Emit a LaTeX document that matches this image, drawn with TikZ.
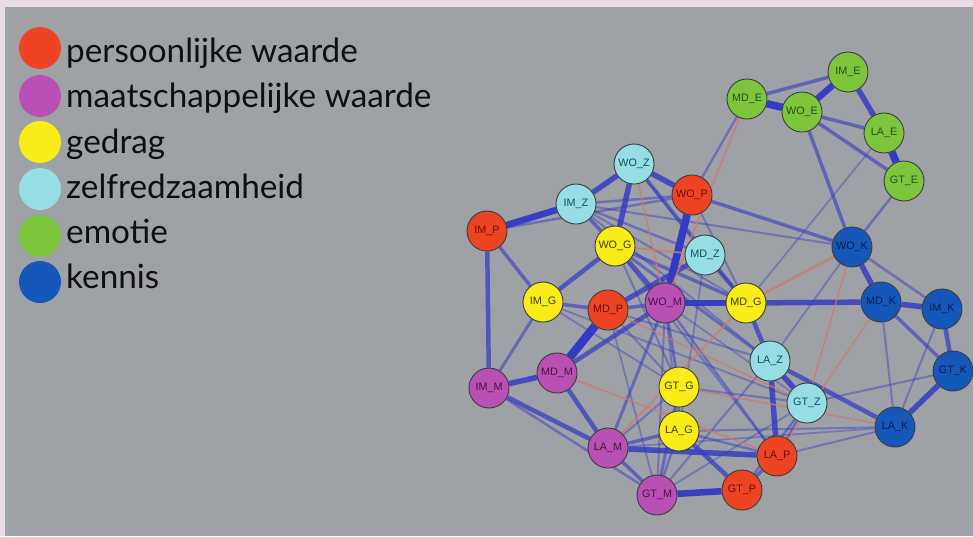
\documentclass[tikz,border=0pt]{standalone}
\usepackage{fontspec}
\setmainfont{Lato}
\newfontfamily\nodefont{Liberation Sans}
\pgfdeclarelayer{bg}
\pgfdeclarelayer{edges}
\pgfsetlayers{bg,edges,main}
\definecolor{pinkbg}{RGB}{233,220,228}
\definecolor{graybg}{RGB}{158,161,165}
\definecolor{cPers}{RGB}{238,68,36}
\definecolor{cMaat}{RGB}{185,80,180}
\definecolor{cGedr}{RGB}{250,236,25}
\definecolor{cZelf}{RGB}{150,222,228}
\definecolor{cEmot}{RGB}{125,198,60}
\definecolor{cKenn}{RGB}{22,88,185}
\definecolor{tPers}{RGB}{100,15,10}
\definecolor{tMaat}{RGB}{75,15,75}
\definecolor{tGedr}{RGB}{60,60,15}
\definecolor{tZelf}{RGB}{15,80,90}
\definecolor{tEmot}{RGB}{35,80,25}
\definecolor{tKenn}{RGB}{10,25,80}
\definecolor{edgeblue}{RGB}{52,58,195}
\definecolor{edgered}{RGB}{210,120,110}
\definecolor{ringgray}{RGB}{60,60,60}
\tikzset{
  vnode/.style={circle,draw=ringgray,line width=0.9pt,minimum size=40pt,inner sep=0pt,
    font=\nodefont\fontsize{10.8}{10.8}\selectfont},
  pn/.style={vnode,fill=cPers,text=tPers},
  mn/.style={vnode,fill=cMaat,text=tMaat},
  gn/.style={vnode,fill=cGedr,text=tGedr},
  zn/.style={vnode,fill=cZelf,text=tZelf},
  en/.style={vnode,fill=cEmot,text=tEmot},
  kn/.style={vnode,fill=cKenn,text=tKenn},
  legdot/.style={circle,minimum size=42pt,inner sep=0pt},
  legtxt/.style={anchor=base west,inner sep=0pt,font=\fontsize{33.3}{33.3}\selectfont,
    text={rgb,255:red,15;green,15;blue,15}},
  redge/.style={draw=edgered,draw opacity=0.8}
}
\begin{document}
\begin{tikzpicture}[x=1pt,y=-1pt]
\useasboundingbox (0,0) rectangle (973,536);
\begin{pgfonlayer}{bg}
  \fill[pinkbg] (0,0) rectangle (973,536);
  \fill[graybg] (5,7) rectangle (973,536);
\end{pgfonlayer}

% legend
\node[legdot,fill=cPers] (l1) at (40,48) {};
\node[legdot,fill=cMaat] (l2) at (40,96) {};
\node[legdot,fill=cGedr] (l3) at (40,142) {};
\node[legdot,fill=cZelf] (l4) at (40,189) {};
\node[legdot,fill=cEmot] (l5) at (40,236) {};
\node[legdot,fill=cKenn] (l6) at (40,282) {};
\node[legtxt] (t1) at (66,62) {persoonlijke waarde};
\node[legtxt] (t2) at (66,107.5) {maatschappelijke waarde};
\node[legtxt] (t3) at (66,153) {gedrag};
\node[legtxt] (t4) at (66,198) {zelfredzaamheid};
\node[legtxt] (t5) at (66,243) {emotie};
\node[legtxt] (t6) at (66,288.5) {kennis};

% nodes
\node[en] (IME) at (848,72) {IM\_E};
\node[en] (MDE) at (747,99) {MD\_E};
\node[en] (WOE) at (802,112) {WO\_E};
\node[en] (LAE) at (884,133) {LA\_E};
\node[en] (GTE) at (904,181) {GT\_E};
\node[zn] (WOZ) at (634,164) {WO\_Z};
\node[pn] (WOP) at (692,195) {WO\_P};
\node[zn] (IMZ) at (576,204) {IM\_Z};
\node[pn] (IMP) at (487,231) {IM\_P};
\node[gn] (WOG) at (615,246) {WO\_G};
\node[zn] (MDZ) at (705,255) {MD\_Z};
\node[kn] (WOK) at (852,247) {WO\_K};
\node[gn] (IMG) at (543,302) {IM\_G};
\node[pn] (MDP) at (608,310) {MD\_P};
\node[mn] (WOM) at (665,303) {WO\_M};
\node[gn] (MDG) at (746,303) {MD\_G};
\node[kn] (MDK) at (881,302) {MD\_K};
\node[kn] (IMK) at (942,309) {IM\_K};
\node[zn] (LAZ) at (770,361) {LA\_Z};
\node[mn] (IMM) at (489,388) {IM\_M};
\node[mn] (MDM) at (557,373) {MD\_M};
\node[gn] (GTG) at (679,387) {GT\_G};
\node[kn] (GTK) at (953,371) {GT\_K};
\node[zn] (GTZ) at (807,403) {GT\_Z};
\node[kn] (LAK) at (895,427) {LA\_K};
\node[gn] (LAG) at (679,431) {LA\_G};
\node[mn] (LAM) at (608,448) {LA\_M};
\node[pn] (LAP) at (777,456) {LA\_P};
\node[pn] (GTP) at (742,490) {GT\_P};
\node[mn] (GTM) at (657,495) {GT\_M};

\begin{pgfonlayer}{edges}
% blue (positive) connectors: from/to/width
\foreach \a/\b/\w in {
 WOE/MDE/7, WOE/IME/6, IME/LAE/5, LAE/GTE/7, MDE/IME/3, WOE/LAE/3, WOE/GTE/3,
 WOE/WOK/3, GTE/WOK/2, MDE/WOP/1.8, LAE/MDG/1.2,
 WOK/MDK/5, MDK/IMK/5, IMK/GTK/4, GTK/LAK/5, MDK/GTK/3, WOK/IMK/2,
 MDK/LAK/1.5, IMK/LAK/1.5, MDG/MDK/5, WOP/WOK/3, IMZ/WOK/1.5, WOK/LAZ/1.3,
 GTK/GTZ/1.5, LAK/LAZ/4, LAK/LAP/1.5, LAK/LAG/1.5, LAK/LAM/1.2,
 IMZ/WOZ/5, WOZ/WOP/5, WOZ/WOG/5, IMZ/IMP/6, LAZ/GTZ/5, LAZ/LAP/5,
 MDZ/MDP/4.5, WOP/WOM/7, MDZ/MDG/3, MDG/LAZ/4, WOG/LAZ/2.5, WOZ/MDG/3,
 WOZ/MDZ/2, IMZ/WOG/3, IMZ/WOP/2, IMZ/MDZ/2, IMZ/MDG/1.5, IMP/WOP/2,
 IMZ/LAZ/1.5,
 WOM/MDG/6, MDP/MDM/8, MDM/WOM/4, WOG/WOM/4, WOG/MDG/3, WOG/IMG/4,
 IMG/MDP/3, IMG/IMP/3, IMG/IMM/2.5, IMM/IMP/4, IMM/MDM/5, IMM/LAM/4,
 IMM/GTM/2, MDM/LAM/4, LAM/GTM/3, LAM/LAP/5, LAM/LAG/3, LAM/WOM/2.5,
 LAM/GTG/1.5, GTM/GTP/6, GTM/GTG/2.5, GTM/LAG/2, GTM/WOM/1.5, GTM/LAZ/1.5,
 GTM/GTZ/1.3, LAG/GTP/4, LAG/GTG/2, LAG/LAP/2, LAG/WOM/1.5, GTG/WOM/2.5,
 GTG/GTZ/1.5, GTP/GTZ/2, GTP/LAP/3, LAP/GTZ/2, LAP/WOM/2, MDP/WOM/3,
 MDP/GTG/1.5, MDP/LAZ/1.5, IMG/GTZ/1.3, IMG/GTG/1.3, WOG/GTG/1.5,
 WOG/LAP/1.5, MDP/GTM/1.3, WOM/GTZ/1.2, MDZ/LAG/1.3, WOP/MDG/1.5}
{
  \pgfmathsetmacro\op{min(1,0.24+0.12*\w)}
  \pgfmathsetmacro\lw{\w+0.5}
  \draw[draw=edgeblue,draw opacity=\op,line width=\lw pt] (\a) -- (\b);
}
% red (negative) connectors
\foreach \a/\b/\w in {
 MDE/WOM/1.6, WOK/MDG/2.2, WOK/GTZ/1.4, MDK/LAP/1.4, LAK/GTG/1.4,
 WOZ/WOM/1.4, WOG/MDZ/1.8, LAM/MDG/1.8, MDM/LAP/1.5, MDP/GTZ/1.3}
{
  \draw[redge,line width=\w pt] (\a) -- (\b);
}
\end{pgfonlayer}
\end{tikzpicture}
\end{document}
